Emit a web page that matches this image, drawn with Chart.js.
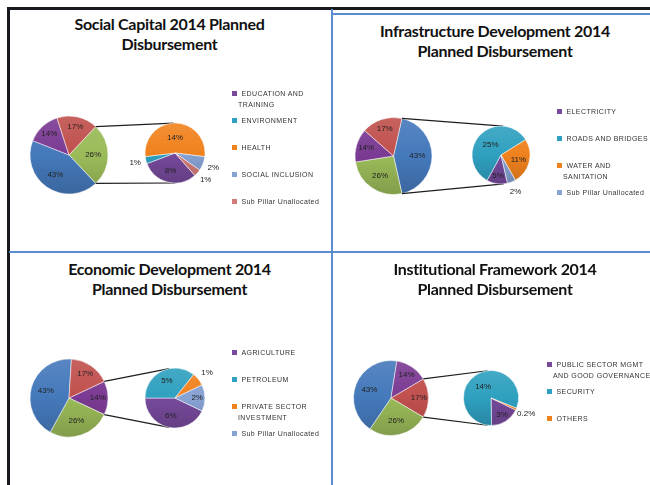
<!DOCTYPE html>
<html>
<head>
<meta charset="utf-8">
<script src="https://cdn.jsdelivr.net/npm/chart.js@4.4.1/dist/chart.umd.min.js"></script>
<style>
  body { margin: 0; width: 650px; height: 485px; overflow: hidden; background: #fff; position: relative; }
  .rule { position: absolute; }
  canvas { position: absolute; }
  .title {
    position: absolute; width: 320px; text-align: center;
    font: bold 16px Lato, "Liberation Sans", Arial, sans-serif;
    letter-spacing: -0.3px; line-height: 20px; color: #111;
  }
  .legend { position: absolute; font: 7px "Liberation Sans", Arial, sans-serif; letter-spacing: 0.4px; color: #333; }
  .legend .item { position: relative; height: 27.2px; line-height: 11.5px; text-indent: 3.5px; }
  .legend .sw { position: absolute; left: -6px; top: 3px; width: 5px; height: 5px; }
</style>
</head>
<body>
<div class="rule" style="left:7px;top:7px;width:643px;height:2.5px;background:#161a1e"></div>
<div class="rule" style="left:7px;top:7px;width:2.5px;height:478px;background:#161a1e"></div>
<div class="rule" style="left:331px;top:9px;width:2px;height:476px;background:#5b8ccf"></div>
<div class="rule" style="left:333px;top:13px;width:317px;height:1.5px;background:#5b8ccf"></div>
<div class="rule" style="left:9px;top:251px;width:641px;height:2px;background:#5b8ccf"></div>

<script>
// pillar shares shown in every main pie
const pillarNames = ['Social Capital', 'Infrastructure Development', 'Economic Development', 'Institutional Framework'];
const pillarShares = [26, 43, 14, 17];
const pillarColors = ['#9bbb59', '#4579bb', '#7b3a93', '#c0504d'];

// sub pillars (second pie of each chart)
const socialLabels = ['EDUCATION AND TRAINING', 'ENVIRONMENT', 'HEALTH', 'SOCIAL INCLUSION', 'Sub Pillar Unallocated'];
const socialValues = [8, 1, 14, 2, 1];
const socialColors = ['#774a9c', '#2fa0c0', '#f0821e', '#87a3d4', '#d27c79'];

const infraLabels = ['ELECTRICITY', 'ROADS AND BRIDGES', 'WATER AND SANITATION', 'Sub Pillar Unallocated'];
const infraValues = [5, 25, 11, 2];
const infraColors = ['#774a9c', '#2fa0c0', '#f0821e', '#87a3d4'];

const econLabels = ['AGRICULTURE', 'PETROLEUM', 'PRIVATE SECTOR INVESTMENT', 'Sub Pillar Unallocated'];
const econValues = [6, 5, 1, 2];
const econColors = ['#774a9c', '#2fa0c0', '#f0821e', '#87a3d4'];

const instLabels = ['PUBLIC SECTOR MGMT AND GOOD GOVERNANCE', 'SECURITY', 'OTHERS'];
const instValues = [3, 14, 0.2];
const instColors = ['#774a9c', '#2fa0c0', '#f0821e'];

// layout of the four panels
const panels = [
  { rect: {x: 10, y: 10, w: 321, h: 241}, title: ['Social Capital 2014 Planned', 'Disbursement'], titleX: 169.5, titleY: 14,
    pillar: 0, main: {cx: 69, cy: 155, r: 39}, sub: {cx: 175, cy: 153, r: 30, rot: 138.5},
    labels: socialLabels, values: socialValues, colors: socialColors, legend: {x: 238, y: 87.5, w: 90} },
  { rect: {x: 334, y: 16, w: 316, h: 235}, title: ['Infrastructure Development 2014', 'Planned Disbursement'], titleX: 495, titleY: 21,
    pillar: 1, main: {cx: 393.5, cy: 156, r: 38.5}, sub: {cx: 501, cy: 155, r: 29, rot: 167},
    labels: infraLabels, values: infraValues, colors: infraColors, legend: {x: 563, y: 105.5, w: 86} },
  { rect: {x: 10, y: 254, w: 321, h: 231}, title: ['Economic Development 2014', 'Planned Disbursement'], titleX: 169.5, titleY: 258.7,
    pillar: 2, main: {cx: 69, cy: 398, r: 39}, sub: {cx: 175, cy: 398, r: 30, rot: 115.7},
    labels: econLabels, values: econValues, colors: econColors, legend: {x: 238, y: 346.5, w: 88} },
  { rect: {x: 334, y: 254, w: 316, h: 231}, title: ['Institutional Framework 2014', 'Planned Disbursement'], titleX: 495, titleY: 259.4,
    pillar: 3, main: {cx: 391, cy: 398, r: 37.5}, sub: {cx: 491, cy: 398, r: 27.5, rot: 116},
    labels: instLabels, values: instValues, colors: instColors, legend: {x: 553, y: 358.5, w: 103} }
];

function mix(hex, to, t) {
  const a = parseInt(hex.slice(1), 16);
  const c = [(a >> 16) & 255, (a >> 8) & 255, a & 255].map(v => Math.round(v + (to - v) * t));
  return `rgb(${c[0]},${c[1]},${c[2]})`;
}

function shaded(ctx, colors, top, bottom) {
  return colors.map(col => {
    const g = ctx.createLinearGradient(0, top, 0, bottom);
    g.addColorStop(0, mix(col, 255, 0.1));
    g.addColorStop(0.5, col);
    g.addColorStop(1, mix(col, 0, 0.16));
    return g;
  });
}

function makeCanvas(rect) {
  const c = document.createElement('canvas');
  c.width = rect.w; c.height = rect.h;
  c.style.left = rect.x + 'px'; c.style.top = rect.y + 'px';
  c.style.width = rect.w + 'px'; c.style.height = rect.h + 'px';
  document.body.appendChild(c);
  return c;
}

function padFor(rect, p) {
  const r = p.r + 0.5;
  return { left: p.cx - r - rect.x, top: p.cy - r - rect.y,
           right: rect.x + rect.w - p.cx - r, bottom: rect.y + rect.h - p.cy - r };
}

// percentage labels, inside for big slices and outside for thin ones
const pctLabels = {
  id: 'pctLabels',
  afterDatasetsDraw(chart) {
    const ctx = chart.ctx;
    const values = chart.data.datasets[0].data;
    const total = values.reduce((a, b) => a + b, 0);
    ctx.save();
    ctx.font = '8px "Liberation Sans", Arial, sans-serif';
    ctx.fillStyle = '#222';
    ctx.textAlign = 'center';
    ctx.textBaseline = 'middle';
    chart.getDatasetMeta(0).data.forEach((arc, i) => {
      const mid = (arc.startAngle + arc.endAngle) / 2;
      const frac = values[i] / total;
      let d = arc.outerRadius * (frac > 0.45 ? 0.5 : frac > 0.2 ? 0.62 : 0.74);
      if (frac < 0.1) d = arc.outerRadius + 11;
      ctx.fillText(values[i] + '%', arc.x + Math.cos(mid) * d, arc.y + Math.sin(mid) * d);
    });
    ctx.restore();
  }
};

// lines from the split slice to the tangents of the second pie
function connector(mainChart) {
  return {
    id: 'connector',
    beforeDatasetsDraw(chart) {
      const big = mainChart.getDatasetMeta(0).data[0];
      const small = chart.getDatasetMeta(0).data[0];
      const ctx = chart.ctx;
      ctx.save();
      ctx.strokeStyle = '#1e1e1e';
      ctx.lineWidth = 1.2;
      [[big.startAngle, 1], [big.endAngle, -1]].forEach(([a, sign]) => {
        const px = big.x + big.outerRadius * Math.cos(a);
        const py = big.y + big.outerRadius * Math.sin(a);
        const vx = px - small.x, vy = py - small.y;
        const d = Math.hypot(vx, vy);
        const t = Math.atan2(vy, vx) + sign * Math.acos(small.outerRadius / d);
        ctx.beginPath();
        ctx.moveTo(px, py);
        ctx.lineTo(small.x + small.outerRadius * Math.cos(t), small.y + small.outerRadius * Math.sin(t));
        ctx.stroke();
      });
      ctx.restore();
    }
  };
}

const quiet = { legend: { display: false }, tooltip: { enabled: false }, title: { display: false } };

panels.forEach(p => {
  // titles
  const t = document.createElement('div');
  t.className = 'title';
  t.style.left = (p.titleX - 160) + 'px';
  t.style.top = p.titleY + 'px';
  t.innerHTML = p.title.join('<br>');
  document.body.appendChild(t);

  // main pie: split pillar first, then the others clockwise
  const order = [p.pillar].concat([0, 1, 2, 3].filter(i => i !== p.pillar));
  const c1 = makeCanvas(p.rect);
  const mainChart = new Chart(c1, {
    type: 'pie',
    data: {
      labels: order.map(i => pillarNames[i]),
      datasets: [{
        data: order.map(i => pillarShares[i]),
        backgroundColor: shaded(c1.getContext('2d'), order.map(i => pillarColors[i]),
          p.main.cy - p.rect.y - p.main.r, p.main.cy - p.rect.y + p.main.r),
        borderColor: 'rgba(255,255,255,0.5)',
        borderWidth: 1
      }]
    },
    options: {
      responsive: false, animation: false, events: [],
      rotation: 90 - pillarShares[p.pillar] * 1.8,
      layout: { padding: padFor(p.rect, p.main) },
      plugins: quiet
    },
    plugins: [pctLabels]
  });

  // second pie with the sub pillars
  const c2 = makeCanvas(p.rect);
  new Chart(c2, {
    type: 'pie',
    data: {
      labels: p.labels,
      datasets: [{
        data: p.values,
        backgroundColor: shaded(c2.getContext('2d'), p.colors,
          p.sub.cy - p.rect.y - p.sub.r, p.sub.cy - p.rect.y + p.sub.r),
        borderColor: 'rgba(255,255,255,0.5)',
        borderWidth: 1
      }]
    },
    options: {
      responsive: false, animation: false, events: [],
      rotation: p.sub.rot,
      layout: { padding: padFor(p.rect, p.sub) },
      plugins: quiet
    },
    plugins: [connector(mainChart), pctLabels]
  });

  // legend for the sub pillars
  const lg = document.createElement('div');
  lg.className = 'legend';
  lg.style.left = p.legend.x + 'px';
  lg.style.top = p.legend.y + 'px';
  lg.style.width = p.legend.w + 'px';
  p.labels.forEach((name, i) => {
    const item = document.createElement('div');
    item.className = 'item';
    const sw = document.createElement('span');
    sw.className = 'sw';
    sw.style.background = p.colors[i];
    item.appendChild(sw);
    item.appendChild(document.createTextNode(name));
    lg.appendChild(item);
  });
  document.body.appendChild(lg);
});
</script>
</body>
</html>
